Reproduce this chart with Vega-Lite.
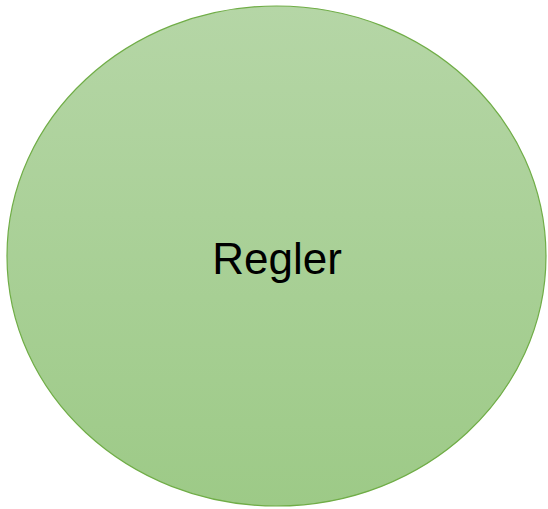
{
  "$schema": "https://vega.github.io/schema/vega-lite/v6.json",
  "width": 548,
  "height": 509,
  "padding": 0,
  "autosize": {"type": "fit", "contains": "padding"},
  "background": "white",
  "config": {"view": {"stroke": null}},
  "data": {"values": [{"cx": 277.5, "cy": 256, "label": "Regler"}]},
  "encoding": {
    "x": {"field": "cx", "type": "quantitative", "scale": {"domain": [0, 548]}, "axis": null},
    "y": {"field": "cy", "type": "quantitative", "scale": {"domain": [509, 0]}, "axis": null}
  },
  "layer": [
    {
      "mark": {
        "type": "point",
        "filled": true,
        "opacity": 1,
        "shape": "M -1 0 A 1 0.9276 0 1 0 1 0 A 1 0.9276 0 1 0 -1 0 Z",
        "size": 290521,
        "fill": {
          "gradient": "linear",
          "x1": 0, "y1": 0, "x2": 0, "y2": 1,
          "stops": [
            {"offset": 0, "color": "#b5d6a6"},
            {"offset": 1, "color": "#9dca87"}
          ]
        },
        "stroke": "#70ad47",
        "strokeWidth": 1.2
      }
    },
    {
      "mark": {
        "type": "text",
        "font": "Liberation Sans",
        "fontSize": 44,
        "color": "#000000",
        "baseline": "alphabetic",
        "align": "center",
        "dx": 0.5,
        "dy": 18
      },
      "encoding": {"text": {"field": "label"}}
    }
  ]
}
